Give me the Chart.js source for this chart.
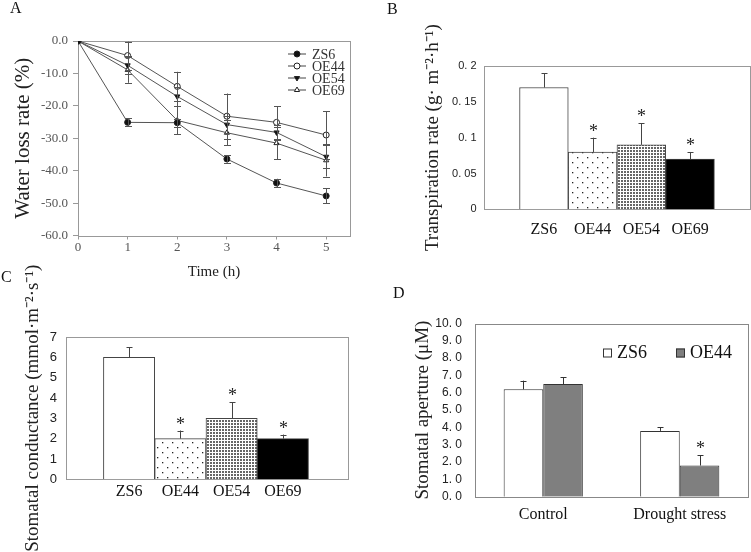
<!DOCTYPE html>
<html>
<head>
<meta charset="utf-8">
<script src="https://cdn.jsdelivr.net/npm/chart.js@4.4.0/dist/chart.umd.min.js"></script>
<style>
html, body { margin: 0; padding: 0; background: #fff; }
#lienzo { position: relative; width: 751px; height: 552px; overflow: hidden; }
#lienzo canvas { position: absolute; left: 0; top: 0; }
.letra { position: absolute; font-family: 'Liberation Serif', 'Times New Roman', serif; font-size: 16px; line-height: 1; color: #111; }
</style>
</head>
<body>
<div id="lienzo">
  <canvas id="graficaA" width="751" height="552"></canvas>
  <canvas id="graficaB" width="751" height="552"></canvas>
  <canvas id="graficaC" width="751" height="552"></canvas>
  <canvas id="graficaD" width="751" height="552"></canvas>
  <div class="letra" style="left:10px;top:0px;">A</div>
  <div class="letra" style="left:387px;top:1px;">B</div>
  <div class="letra" style="left:1px;top:269px;">C</div>
  <div class="letra" style="left:393px;top:285px;">D</div>
</div>
<script>
// ---- datos panel A (perdida de agua) ----
var horas = [0, 1, 2, 3, 4, 5];
var perdidaZS6 = [0, -25.1, -25.2, -36.4, -43.8, -47.8];
var errorZS6 = [0, 1.2, 1.2, 1.1, 1.3, 2.3];
var perdidaOE44 = [0, -4.5, -14.0, -23.2, -25.1, -29.0];
var errorOE44 = [0, 4.3, 4.5, 7.0, 5.0, 7.3];
var perdidaOE54 = [0, -7.5, -17.1, -25.8, -28.2, -35.7];
var errorOE54 = [0, 2.8, 3.0, 2.6, 2.2, 3.5];
var perdidaOE69 = [0, -8.9, -24.5, -28.3, -31.5, -36.8];
var errorOE69 = [0, 4.0, 4.3, 3.8, 5.0, 5.0];
var ticksA = ['-60.0', '-50.0', '-40.0', '-30.0', '-20.0', '-10.0', '0.0'];

// ---- datos paneles B y C ----
var lineas = ['ZS6', 'OE44', 'OE54', 'OE69'];
var transpiracion = [0.17, 0.08, 0.09, 0.07];
var errorTranspiracion = [0.02, 0.02, 0.03, 0.01];
var ticksB = ['0', '0. 05', '0. 1', '0. 15', '0. 2'];
var conductancia = [6, 2, 3, 2];
var errorConductancia = [0.5, 0.4, 0.8, 0.2];
var ticksC = ['0', '1', '2', '3', '4', '5', '6', '7'];
var significativo = [false, true, true, true];

// ---- datos panel D ----
var condiciones = ['Control', 'Drought stress'];
var aperturaZS6 = [6.2, 3.8];
var errorAperturaZS6 = [0.5, 0.2];
var aperturaOE44 = [6.5, 1.8];
var errorAperturaOE44 = [0.4, 0.6];
var ticksD = ['0. 0', '1. 0', '2. 0', '3. 0', '4. 0', '5. 0', '6. 0', '7. 0', '8. 0', '9. 0', '10. 0'];

var serif = "'Liberation Serif', 'Times New Roman', serif";
var sans = "'Liberation Sans', Arial, sans-serif";

function patron(tam, puntos, tamPunto, color) {
  var c = document.createElement('canvas');
  c.width = tam; c.height = tam;
  var x = c.getContext('2d');
  x.fillStyle = '#fff';
  x.fillRect(0, 0, tam, tam);
  x.fillStyle = color;
  puntos.forEach(function (p) { x.fillRect(p[0], p[1], tamPunto, tamPunto); });
  return x.createPattern(c, 'repeat');
}
var puntosRalos = patron(10, [[2, 2], [7, 7]], 1.3, '#222');
var puntosDensos = patron(3, [[0, 0]], 2, '#666');

// marco gris alrededor del area de la grafica
var marco = {
  id: 'marco',
  beforeDatasetsDraw: function (chart, args, opts) {
    var a = chart.chartArea, ctx = chart.ctx;
    ctx.save();
    ctx.strokeStyle = opts.color || '#999';
    ctx.lineWidth = 1;
    ctx.strokeRect(Math.round(a.left) + 0.5, Math.round(a.top) + 0.5,
      Math.round(a.right - a.left), Math.round(a.bottom - a.top));
    ctx.restore();
  }
};

// barras de error y asteriscos
var barrasError = {
  id: 'barrasError',
  afterDatasetsDraw: function (chart, args, opts) {
    var ctx = chart.ctx, y = chart.scales.y;
    ctx.save();
    ctx.strokeStyle = opts.color || '#444';
    ctx.lineWidth = 1;
    chart.data.datasets.forEach(function (ds, i) {
      if (!ds.errores) return;
      var meta = chart.getDatasetMeta(i);
      meta.data.forEach(function (el, j) {
        var err = ds.errores[j];
        var v = meta.controller.getParsed(j).y;
        var x = Math.round(el.x) + 0.5;
        var arriba = y.getPixelForValue(v + err);
        var abajo = opts.ambos ? y.getPixelForValue(v - err) : el.y;
        if (err) {
          ctx.beginPath();
          ctx.moveTo(x, abajo);
          ctx.lineTo(x, arriba);
          ctx.moveTo(x - opts.tope, Math.round(arriba) + 0.5);
          ctx.lineTo(x + opts.tope, Math.round(arriba) + 0.5);
          if (opts.ambos) {
            ctx.moveTo(x - opts.tope, Math.round(abajo) + 0.5);
            ctx.lineTo(x + opts.tope, Math.round(abajo) + 0.5);
          }
          ctx.stroke();
        }
        if (ds.estrellas && ds.estrellas[j]) {
          ctx.fillStyle = '#222';
          ctx.font = '18px ' + serif;
          ctx.textAlign = 'center';
          ctx.textBaseline = 'alphabetic';
          ctx.fillText('*', x, arriba - 1);
        }
      });
    });
    ctx.restore();
  }
};

// leyenda de lineas con marcador (panel A)
var leyendaLineas = {
  id: 'leyendaLineas',
  afterDraw: function (chart, args, opts) {
    var ctx = chart.ctx, a = chart.chartArea;
    ctx.save();
    chart.data.datasets.forEach(function (ds, i) {
      var x0 = a.right - opts.dx, y0 = a.top + opts.dy + i * opts.paso;
      ctx.strokeStyle = '#444';
      ctx.lineWidth = 1;
      ctx.beginPath();
      ctx.moveTo(x0, y0); ctx.lineTo(x0 + 18, y0);
      ctx.stroke();
      ctx.fillStyle = ds.pointBackgroundColor;
      ctx.strokeStyle = ds.pointBorderColor;
      Chart.helpers.drawPoint(ctx, {
        pointStyle: ds.pointStyle, rotation: ds.pointRotation || 0,
        radius: ds.pointRadius, borderWidth: 1
      }, x0 + 9, y0);
      ctx.fillStyle = '#333';
      ctx.font = '14px ' + serif;
      ctx.textAlign = 'left';
      ctx.textBaseline = 'middle';
      ctx.fillText(ds.label, x0 + 24, y0 + 1);
    });
    ctx.restore();
  }
};

// leyenda de cuadros (panel D)
var leyendaCuadros = {
  id: 'leyendaCuadros',
  afterDraw: function (chart, args, opts) {
    var ctx = chart.ctx, a = chart.chartArea;
    ctx.save();
    chart.data.datasets.forEach(function (ds, i) {
      var x0 = a.left + opts.xs[i], y0 = a.top + opts.dy;
      ctx.fillStyle = ds.backgroundColor;
      ctx.fillRect(x0, y0 - 4, 9, 9);
      ctx.strokeStyle = '#333';
      ctx.strokeRect(x0 + 0.5, y0 - 3.5, 8, 8);
      ctx.fillStyle = '#111';
      ctx.font = '18px ' + serif;
      ctx.textAlign = 'left';
      ctx.textBaseline = 'middle';
      ctx.fillText(ds.label, x0 + 14, y0 + 1);
    });
    ctx.restore();
  }
};

function puntosXY(xs, ys) {
  return xs.map(function (x, i) { return { x: x, y: ys[i] }; });
}

function serieA(etiqueta, valores, errores, estilo, relleno, giro) {
  return {
    label: etiqueta,
    data: puntosXY(horas, valores),
    errores: errores,
    borderColor: '#555',
    borderWidth: 1,
    pointStyle: estilo,
    pointRotation: giro || 0,
    pointRadius: 3,
    pointBackgroundColor: relleno,
    pointBorderColor: '#222',
    pointBorderWidth: 1
  };
}

// ---------- panel A ----------
new Chart(document.getElementById('graficaA'), {
  type: 'line',
  data: {
    datasets: [
      serieA('ZS6', perdidaZS6, errorZS6, 'circle', '#111'),
      serieA('OE44', perdidaOE44, errorOE44, 'circle', '#fff'),
      serieA('OE54', perdidaOE54, errorOE54, 'triangle', '#111', 180),
      serieA('OE69', perdidaOE69, errorOE69, 'triangle', '#fff')
    ]
  },
  options: {
    responsive: false,
    animation: false,
    layout: { padding: { left: 0, top: 41, right: 401, bottom: 267 } },
    plugins: {
      legend: { display: false },
      tooltip: { enabled: false },
      marco: { color: '#999' },
      barrasError: { ambos: true, tope: 3.5, color: '#555' },
      leyendaLineas: { dx: 62, dy: 13, paso: 12 }
    },
    scales: {
      x: {
        type: 'linear', min: 0, max: 5.48,
        afterFit: function (s) { s.height = 49.5; },
        ticks: {
          stepSize: 1, includeBounds: false, padding: 0.5,
          color: '#555', font: { family: serif, size: 13 }
        },
        grid: { drawOnChartArea: false, tickLength: 4, color: '#999' },
        border: { display: false },
        title: {
          display: true, text: 'Time (h)', color: '#222',
          font: { family: serif, size: 15 }, padding: { top: 0, bottom: 4 }
        }
      },
      y: {
        min: -60, max: 0,
        afterFit: function (s) { s.width = 78; },
        ticks: {
          stepSize: 10, padding: 5, color: '#555',
          font: { family: serif, size: 13 },
          callback: function (v, i) { return ticksA[i]; }
        },
        grid: { drawOnChartArea: false, tickLength: 5, color: '#999' },
        border: { display: false },
        title: {
          display: true, text: 'Water loss rate (%)', color: '#222',
          font: { family: serif, size: 21, lineHeight: 1.2 }, padding: { top: 11, bottom: 0 }
        }
      }
    }
  },
  plugins: [marco, barrasError, leyendaLineas]
});

// barras de las cuatro lineas (paneles B y C)
function barrasLineas(valores, errores) {
  return [{
    data: puntosXY([0, 1, 2, 3], valores),
    errores: errores,
    estrellas: significativo,
    backgroundColor: ['#fff', puntosRalos, puntosDensos, '#000'],
    borderColor: '#444',
    borderWidth: 1,
    categoryPercentage: 1,
    barPercentage: 1
  }];
}

function ejeLineas(min, max, alto, relleno) {
  return {
    type: 'linear', min: min, max: max, offset: false,
    afterFit: function (s) { s.height = alto; },
    ticks: {
      stepSize: 1, includeBounds: false, padding: relleno, autoSkip: false,
      color: '#111', font: { family: serif, size: 16 },
      callback: function (v) { return lineas[v] !== undefined ? lineas[v] : ''; }
    },
    grid: { display: false, drawTicks: false, offset: false },
    border: { display: false }
  };
}

// ---------- panel B ----------
new Chart(document.getElementById('graficaB'), {
  type: 'bar',
  data: { datasets: barrasLineas(transpiracion, errorTranspiracion) },
  options: {
    responsive: false,
    animation: false,
    layout: { padding: { left: 410, top: 66, right: 2, bottom: 302.7 } },
    plugins: {
      legend: { display: false },
      tooltip: { enabled: false },
      marco: { color: '#999' },
      barrasError: { ambos: false, tope: 3, color: '#444' }
    },
    scales: {
      x: ejeLineas(-1.24, 4.21, 40, 11),
      y: {
        min: 0, max: 0.2,
        afterFit: function (s) { s.width = 73.5; },
        ticks: {
          stepSize: 0.05, padding: 7, color: '#222',
          font: { family: sans, size: 11 },
          callback: function (v, i) { return ticksB[i]; }
        },
        grid: { display: false, drawTicks: false },
        border: { display: false },
        title: {
          display: true, text: 'Transpiration rate (g\u00b7 m\u207b\u00b2\u00b7h\u207b\u00b9)', color: '#222',
          font: { family: serif, size: 19, lineHeight: 1.2 }, padding: { top: 11.6, bottom: 0 }
        }
      }
    }
  },
  plugins: [marco, barrasError]
});

// ---------- panel C ----------
new Chart(document.getElementById('graficaC'), {
  type: 'bar',
  data: { datasets: barrasLineas(conductancia, errorConductancia) },
  options: {
    responsive: false,
    animation: false,
    layout: { padding: { left: 0, top: 337, right: 403, bottom: 32.7 } },
    plugins: {
      legend: { display: false },
      tooltip: { enabled: false },
      marco: { color: '#999' },
      barrasError: { ambos: false, tope: 3, color: '#444' }
    },
    scales: {
      x: ejeLineas(-1.23, 4.27, 40, 3),
      y: {
        min: 0, max: 7,
        afterFit: function (s) { s.width = 66; },
        ticks: {
          stepSize: 1, padding: 9, color: '#222',
          font: { family: sans, size: 13 },
          callback: function (v, i) { return ticksC[i]; }
        },
        grid: { display: false, drawTicks: false },
        border: { display: false },
        title: {
          display: true, text: 'Stomatal conductance (mmol\u00b7m\u207b\u00b2\u00b7s\u207b\u00b9)', color: '#222',
          font: { family: serif, size: 19, lineHeight: 1.2 }, padding: { top: 21.6, bottom: 0 }
        }
      }
    }
  },
  plugins: [marco, barrasError]
});

// ---------- panel D ----------
new Chart(document.getElementById('graficaD'), {
  type: 'bar',
  data: {
    labels: condiciones,
    datasets: [
      {
        label: 'ZS6', data: aperturaZS6, errores: errorAperturaZS6,
        backgroundColor: '#fff', borderColor: '#333', borderWidth: 1,
        categoryPercentage: 0.58, barPercentage: 1
      },
      {
        label: 'OE44', data: aperturaOE44, errores: errorAperturaOE44,
        estrellas: [false, true],
        backgroundColor: '#7f7f7f', borderColor: '#333', borderWidth: 1,
        categoryPercentage: 0.58, barPercentage: 1
      }
    ]
  },
  options: {
    responsive: false,
    animation: false,
    layout: { padding: { left: 400, top: 323.5, right: 3, bottom: 15.3 } },
    plugins: {
      legend: { display: false },
      tooltip: { enabled: false },
      marco: { color: '#888' },
      barrasError: { ambos: false, tope: 3, color: '#333' },
      leyendaCuadros: { xs: [128, 201], dy: 29 }
    },
    scales: {
      x: {
        afterFit: function (s) { s.height = 40; },
        ticks: { padding: 8, color: '#111', font: { family: serif, size: 16 } },
        grid: { display: false, drawTicks: false },
        border: { display: false }
      },
      y: {
        min: 0, max: 10,
        afterFit: function (s) { s.width = 75; },
        ticks: {
          stepSize: 1, padding: 13, color: '#222', autoSkip: false,
          font: { family: sans, size: 12 },
          callback: function (v, i) { return ticksD[i]; }
        },
        grid: { display: false, drawTicks: false },
        border: { display: false },
        title: {
          display: true, text: 'Stomatal aperture (\u03bcM)', color: '#222',
          font: { family: serif, size: 19, lineHeight: 1.2 }, padding: { top: 11.6, bottom: 0 }
        }
      }
    }
  },
  plugins: [marco, barrasError, leyendaCuadros]
});
</script>
</body>
</html>
